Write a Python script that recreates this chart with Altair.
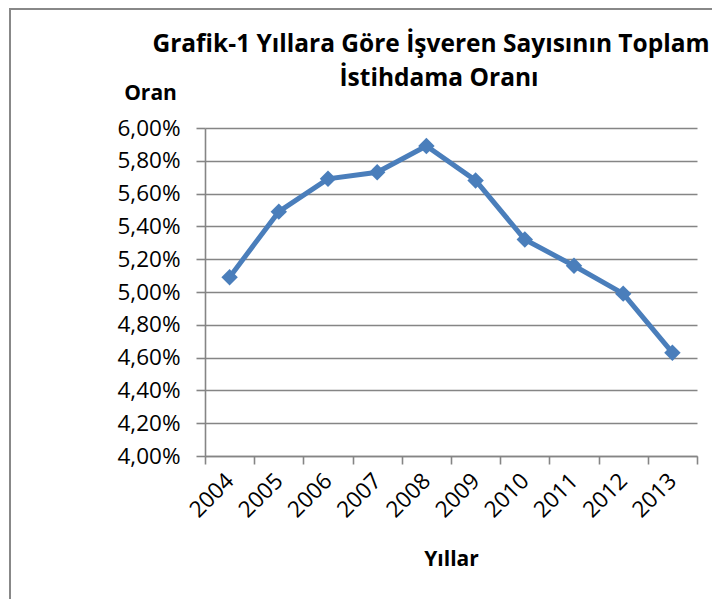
import altair as alt
import pandas as pd

years = ["2004", "2005", "2006", "2007", "2008", "2009", "2010", "2011", "2012", "2013"]
oran = [5.09, 5.49, 5.69, 5.73, 5.89, 5.68, 5.32, 5.16, 4.99, 4.63]
y_ticks = [4.0, 4.2, 4.4, 4.6, 4.8, 5.0, 5.2, 5.4, 5.6, 5.8, 6.0]
title_lines = ["Grafik-1 Yıllara Göre İşveren Sayısının Toplam", "İstihdama Oranı"]

df = pd.DataFrame({"Yil": years, "Oran": oran})

FONT = "Open Sans"
BLUE = "#4A7EBB"
GRID = "#858585"

x_enc = alt.X(
    "Yil:N",
    bandPosition=0.5,
    scale=alt.Scale(type="band", paddingInner=0, paddingOuter=0),
    axis=alt.Axis(
        title="Yıllar",
        titleFont=FONT, titleFontSize=21, titleFontWeight="bold", titleColor="#000",
        titleX=246, titleY=103, titleAlign="center", titleBaseline="middle", titleAngle=0,
        labelFont=FONT, labelFontSize=22.5, labelColor="#000",
        labelAngle=-45, labelAlign="right", labelBaseline="middle", labelPadding=13,
        labelOverlap=False,
        tickBand="extent", tickSize=8, tickColor=GRID, tickWidth=1.6,
        domainColor=GRID, domainWidth=1.6, grid=False,
    ),
)
y_enc = alt.Y(
    "Oran:Q",
    scale=alt.Scale(domain=[4.0, 6.0], nice=False, zero=False),
    axis=alt.Axis(
        title="Oran",
        titleFont=FONT, titleFontSize=21, titleFontWeight="bold", titleColor="#000",
        titleAngle=0, titleX=-55, titleY=-35, titleAlign="center", titleBaseline="middle",
        values=y_ticks,
        labelExpr="replace(format(datum.value, '.2f'), '.', ',') + '%'",
        labelFont=FONT, labelFontSize=22.5, labelColor="#000", labelPadding=16,
        tickSize=9, tickColor=GRID, tickWidth=1.6,
        domainColor=GRID, domainWidth=1.6,
        grid=True, gridColor=GRID, gridWidth=1.6,
    ),
)

one = pd.DataFrame({"k": [0]})

border = alt.Chart(one).mark_rect(
    fill=None, fillOpacity=0, stroke="#888888", strokeWidth=2
).encode(
    x=alt.value(-195), x2=alt.value(700), y=alt.value(-119), y2=alt.value(700)
)

title1 = alt.Chart(one).mark_text(
    font=FONT, fontSize=24.5, fontWeight="bold", color="#000", align="center", baseline="middle"
).encode(x=alt.value(226), y=alt.value(-83), text=alt.value(title_lines[0]))
title2 = alt.Chart(one).mark_text(
    font=FONT, fontSize=24.5, fontWeight="bold", color="#000", align="center", baseline="middle"
).encode(x=alt.value(234), y=alt.value(-49), text=alt.value(title_lines[1]))

line = alt.Chart(df).mark_line(color=BLUE, strokeWidth=5).encode(x=x_enc, y=y_enc)
points = alt.Chart(df).mark_point(
    shape="diamond", filled=True, color=BLUE, size=270, opacity=1
).encode(x=x_enc, y=y_enc)

chart = alt.layer(border, title1, title2, line, points).properties(
    width=492,
    height=328,
    autosize=alt.AutoSizeParams(type="none"),
    padding={"left": 197, "top": 120, "right": 15, "bottom": 143},
    background="white",
).configure_view(stroke=None)

chart.save("out.html", embed_options={"renderer": "svg", "actions": False})
